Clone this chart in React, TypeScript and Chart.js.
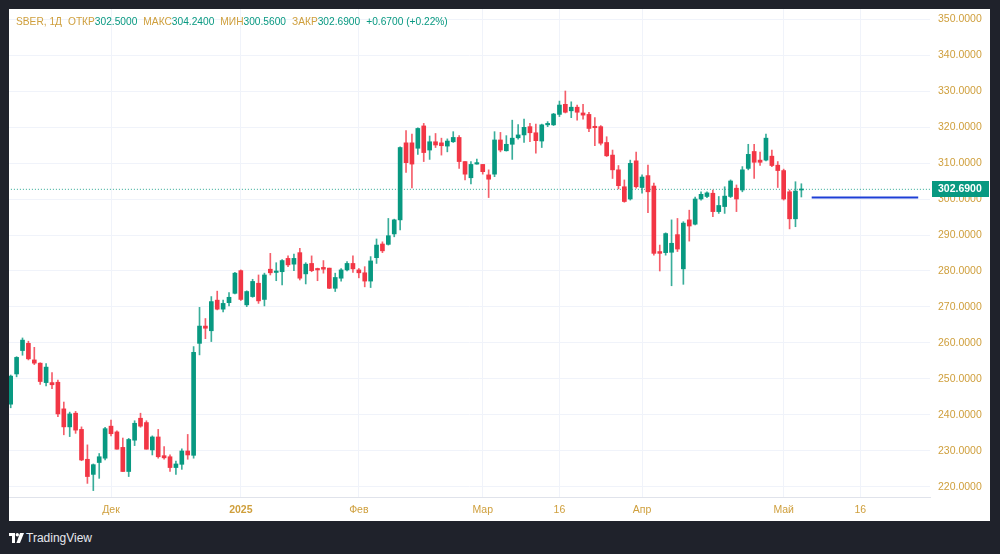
import React, { useEffect, useRef } from "react";
import { Chart, registerables } from "chart.js";

Chart.register(...registerables);

const opens = [
  243.0, 251.4, 257.9, 259.9, 255.3, 254.4, 249.0, 249.0, 249.1, 241.7,
  236.7, 240.5, 236.0, 227.7, 223.5, 226.8, 228.0, 236.9, 235.3, 231.0,
  224.3, 233.0, 239.1, 237.9, 230.3, 233.9, 228.7, 228.4, 225.4, 226.3,
  230.0, 228.8, 259.9, 264.7, 263.4, 271.9, 269.4, 271.2, 273.8, 280.1,
  270.6, 272.9, 276.6, 272.1, 280.5, 279.6, 279.8, 283.5, 281.9, 285.1,
  279.2, 282.1, 280.7, 281.0, 280.8, 275.2, 278.0, 280.3, 282.1, 280.3,
  279.5, 277.2, 283.7, 287.5, 287.4, 290.3, 294.2, 315.6, 315.6, 314.1,
  320.3, 313.6, 315.9, 315.6, 314.7, 315.9, 317.1, 310.4, 305.9, 309.7,
  309.6, 306.7, 306.9, 316.4, 313.4, 315.2, 317.0, 317.8, 320.1, 318.4,
  316.1, 320.6, 320.6, 323.5, 326.3, 324.5, 325.5, 323.9, 323.5, 320.2,
  320.1, 315.7, 312.2, 308.1, 303.4, 300.0, 310.6, 303.2, 306.5, 303.6,
  285.4, 285.1, 285.2, 290.1, 280.6, 294.2, 293.0, 300.0, 300.7, 301.6,
  296.5, 297.9, 300.7, 303.0, 302.5, 308.5, 313.2, 310.8, 310.8, 311.9,
  309.4, 307.9, 302.0, 294.5, 302.5,
];
const highs = [
  251.1, 256.2, 261.4, 260.5, 258.8, 254.5, 254.3, 251.8, 249.7, 243.6,
  240.8, 241.0, 236.7, 231.7, 226.4, 229.3, 236.6, 238.6, 235.6, 233.6,
  233.5, 238.4, 240.5, 238.4, 234.2, 236.0, 231.2, 228.9, 227.2, 230.6,
  234.6, 259.0, 269.9, 266.8, 272.9, 274.4, 271.9, 274.0, 279.6, 280.3,
  274.5, 277.7, 278.9, 279.4, 284.9, 282.3, 283.2, 284.2, 284.7, 286.3,
  282.3, 284.2, 280.8, 282.9, 280.8, 279.4, 280.7, 282.6, 284.2, 280.7,
  281.2, 284.0, 288.9, 288.1, 294.6, 294.4, 314.5, 319.0, 318.0, 319.8,
  321.0, 317.5, 318.2, 316.9, 316.7, 318.7, 317.6, 310.4, 310.4, 311.1,
  309.6, 308.1, 318.7, 318.5, 317.6, 321.9, 320.7, 322.2, 321.0, 320.8,
  320.8, 321.5, 323.8, 327.2, 330.0, 327.0, 326.1, 326.3, 324.1, 322.6,
  320.4, 317.3, 313.6, 309.3, 305.3, 310.8, 313.0, 306.7, 309.4, 304.4,
  287.2, 290.6, 294.2, 294.6, 293.7, 296.9, 300.5, 302.0, 302.0, 302.5,
  300.7, 303.4, 305.3, 303.9, 309.0, 315.2, 315.2, 313.0, 318.0, 313.6,
  310.4, 308.3, 302.5, 304.8, 304.24,
];
const lows = [
  242.0, 250.6, 256.6, 255.3, 254.0, 248.5, 248.1, 247.3, 239.5, 234.5,
  234.0, 234.9, 227.3, 221.0, 219.0, 222.4, 227.5, 234.2, 230.5, 224.3,
  222.9, 231.5, 236.6, 230.5, 228.9, 228.0, 227.7, 224.3, 223.5, 224.9,
  227.7, 228.0, 256.7, 261.2, 260.4, 269.2, 268.6, 270.3, 273.6, 271.8,
  270.1, 272.7, 271.0, 270.3, 278.9, 277.3, 276.1, 281.2, 280.1, 277.5,
  276.4, 279.8, 277.3, 279.4, 275.1, 274.3, 277.2, 280.0, 279.6, 278.1,
  275.6, 275.4, 282.1, 285.1, 287.2, 289.5, 291.4, 307.4, 303.1, 312.4,
  310.4, 311.0, 314.3, 312.2, 313.1, 315.7, 308.5, 305.3, 304.2, 309.7,
  306.9, 300.4, 306.2, 313.1, 313.3, 311.0, 316.6, 315.7, 315.9, 312.7,
  314.3, 320.1, 320.4, 322.9, 323.9, 322.6, 321.9, 322.2, 318.7, 314.8,
  315.0, 311.8, 305.7, 302.8, 299.1, 299.7, 303.0, 301.6, 296.2, 284.4,
  280.0, 284.4, 275.9, 285.4, 276.3, 288.3, 292.8, 299.7, 300.4, 295.1,
  296.0, 296.0, 300.4, 296.5, 302.0, 308.1, 305.7, 309.3, 310.6, 309.0,
  303.2, 299.7, 291.7, 292.3, 300.56,
];
const closes = [
  250.8, 256.0, 260.8, 255.6, 254.4, 249.3, 253.3, 248.4, 240.3, 236.7,
  240.3, 235.8, 227.5, 222.9, 226.2, 228.4, 236.2, 234.8, 230.5, 224.3,
  233.2, 237.7, 236.9, 230.5, 233.9, 228.4, 228.1, 225.4, 226.4, 230.0,
  228.9, 257.4, 264.7, 264.1, 271.5, 269.4, 271.0, 272.7, 279.4, 272.1,
  274.3, 277.1, 271.7, 278.9, 279.5, 280.0, 282.9, 281.7, 283.5, 278.0,
  281.9, 280.1, 280.3, 280.5, 275.2, 278.2, 280.3, 282.1, 280.6, 279.5,
  277.2, 282.8, 287.2, 285.6, 289.8, 294.2, 314.3, 310.1, 309.7, 319.6,
  312.9, 315.9, 315.0, 314.8, 316.1, 317.1, 310.4, 306.9, 309.6, 310.1,
  307.6, 305.5, 316.4, 313.6, 315.2, 316.9, 317.8, 319.9, 318.4, 316.2,
  320.6, 321.0, 323.6, 326.1, 324.1, 325.5, 324.1, 323.3, 319.6, 319.8,
  315.5, 312.0, 308.1, 303.7, 299.3, 309.9, 303.4, 306.1, 302.0, 284.9,
  284.9, 290.4, 287.7, 286.1, 293.3, 292.5, 300.0, 301.3, 301.7, 296.5,
  298.2, 300.8, 305.0, 300.0, 308.1, 312.4, 310.2, 310.2, 316.9, 309.3,
  307.9, 300.0, 294.5, 302.2, 302.69,
];

const xTickIndex = [17, 39, 59, 80, 93, 107, 131, 144];
const xTickLabels = ["Дек", "2025", "Фев", "Мар", "16", "Апр", "Май", "16"];
const yTickValues = [220, 230, 240, 250, 260, 270, 280, 290, 300, 310, 320, 330, 340, 350];

const lastClose = 302.69;
const levelStart = 135.75;
const levelEnd = 153.8;
const levelPrice = 300.45;

const UP = "#089981";
const DOWN = "#F23645";
const UP_WICK = "rgba(8,153,129,0.8)";
const DOWN_WICK = "rgba(242,54,69,0.8)";
const GOLD = "#cf9f3c";
const GRID = "#f0f3fa";
const FONT = "'Liberation Sans', Arial, sans-serif";

const noPad = (s: any) => {
  s.paddingTop = 0;
  s.paddingBottom = 0;
  s.paddingLeft = 0;
  s.paddingRight = 0;
};

export default function App() {
  const ref = useRef<HTMLCanvasElement | null>(null);

  useEffect(() => {
    if (!ref.current) return;
    const up = opens.map((o, i) => closes[i] >= o);
    const priceLabel = {
      id: "priceLabel",
      afterDraw(chart: any) {
        const { ctx, chartArea, scales } = chart;
        const y = scales.y.getPixelForValue(lastClose);
        ctx.save();
        ctx.fillStyle = UP;
        ctx.fillRect(chartArea.right + 2, Math.round(y) - 8, 57, 16);
        ctx.fillStyle = "#ffffff";
        ctx.font = `bold 10.5px ${FONT}`;
        ctx.textBaseline = "middle";
        ctx.textAlign = "left";
        ctx.fillText(lastClose.toFixed(4), chartArea.right + 8, Math.round(y));
        ctx.restore();
      },
    };

    const chart = new Chart(ref.current, {
      type: "bar",
      data: {
        datasets: [
          {
            type: "bar",
            label: "bodies",
            data: opens.map((o, i) => ({ x: i, y: [o, closes[i]] })) as any,
            backgroundColor: up.map((u) => (u ? UP : DOWN)),
            barThickness: 4,
            minBarLength: 1,
            grouped: false,
            order: 1,
          } as any,
          {
            type: "bar",
            label: "wicks",
            data: lows.map((l, i) => ({ x: i, y: [l, highs[i]] })) as any,
            backgroundColor: up.map((u) => (u ? UP_WICK : DOWN_WICK)),
            barThickness: 1,
            grouped: false,
            order: 2,
          } as any,
          {
            type: "line",
            label: "last",
            data: [
              { x: -2, y: lastClose },
              { x: 160, y: lastClose },
            ],
            borderColor: "rgba(8,153,129,0.85)",
            borderWidth: 1,
            borderDash: [1, 2],
            pointRadius: 0,
            order: 10,
          } as any,
          {
            type: "line",
            label: "level",
            data: [
              { x: levelStart, y: levelPrice },
              { x: levelEnd, y: levelPrice },
            ],
            borderColor: "#1d3fd6",
            borderWidth: 2,
            pointRadius: 0,
            order: 0,
          } as any,
        ],
      },
      options: {
        animation: false,
        responsive: false,
        maintainAspectRatio: false,
        devicePixelRatio: 1,
        layout: { padding: 0 },
        plugins: { legend: { display: false }, tooltip: { enabled: false } },
        scales: {
          x: {
            type: "linear",
            offset: false,
            min: -0.288,
            max: 155.8,
            grid: { color: GRID, drawTicks: false, offset: false },
            border: { display: true, color: "#e0e3eb" },
            ticks: {
              color: GOLD,
              padding: 7,
              maxRotation: 0,
              autoSkip: false,
              font: (ctx: any) => ({
                size: 10.5,
                family: FONT,
                weight: ctx.tick && ctx.tick.label === "2025" ? "bold" : "normal",
              }),
              callback: (v: any) => {
                const k = xTickIndex.indexOf(Number(v));
                return k >= 0 ? xTickLabels[k] : "";
              },
            },
            afterBuildTicks: (s: any) => {
              s.ticks = xTickIndex.map((v) => ({ value: v }));
            },
            afterFit: (s: any) => {
              s.height = 24;
              noPad(s);
            },
          },
          y: {
            type: "linear",
            position: "right",
            min: 217.22,
            max: 352.78,
            grid: { color: GRID, drawTicks: false },
            border: { display: false },
            ticks: {
              color: GOLD,
              padding: 8,
              font: { size: 10.5, family: FONT },
              callback: (v: any) => Number(v).toFixed(4),
            },
            afterBuildTicks: (s: any) => {
              s.ticks = yTickValues.map((v) => ({ value: v }));
            },
            afterFit: (s: any) => {
              s.width = 60;
              noPad(s);
            },
          },
        },
      } as any,
      plugins: [priceLabel],
    });
    return () => chart.destroy();
  }, []);

  const lab = { color: GOLD };
  const val = { color: UP };
  const gap = { marginLeft: 6 };

  return (
    <div
      style={{
        position: "fixed",
        left: 0,
        top: 0,
        width: 1000,
        height: 554,
        background: "#1f222b",
        overflow: "hidden",
      }}
    >
      <div
        style={{
          position: "absolute",
          left: 9,
          top: 9,
          width: 981,
          height: 512,
          background: "#ffffff",
        }}
      >
        <canvas
          ref={ref}
          width={981}
          height={512}
          style={{ width: 981, height: 512, display: "block" }}
        />
        <div
          style={{
            position: "absolute",
            left: 7,
            top: 6,
            fontFamily: FONT,
            fontSize: 10.2,
            lineHeight: "14px",
            whiteSpace: "nowrap",
          }}
        >
          <span style={lab}>SBER, 1Д</span>
          <span style={{ ...lab, ...gap }}>ОТКР</span>
          <span style={val}>302.5000</span>
          <span style={{ ...lab, ...gap }}>МАКС</span>
          <span style={val}>304.2400</span>
          <span style={{ ...lab, ...gap }}>МИН</span>
          <span style={val}>300.5600</span>
          <span style={{ ...lab, ...gap }}>ЗАКР</span>
          <span style={val}>302.6900</span>
          <span style={{ ...val, ...gap }}>+0.6700 (+0.22%)</span>
        </div>
      </div>
      <div
        style={{
          position: "absolute",
          left: 9,
          top: 531,
          display: "flex",
          alignItems: "center",
          gap: 2,
        }}
      >
        <svg width="15" height="11" viewBox="0 0 15 11">
          <path d="M0 0 H6 V10 H3 V3 H0 Z" fill="#ffffff" />
          <circle cx="8.3" cy="1.7" r="1.7" fill="#ffffff" />
          <path d="M11 0 H15 L11 10 H7.4 Z" fill="#ffffff" />
        </svg>
        <span
          style={{
            color: "#e6e8ee",
            fontFamily: FONT,
            fontSize: 12,
            lineHeight: "14px",
          }}
        >
          TradingView
        </span>
      </div>
    </div>
  );
}
